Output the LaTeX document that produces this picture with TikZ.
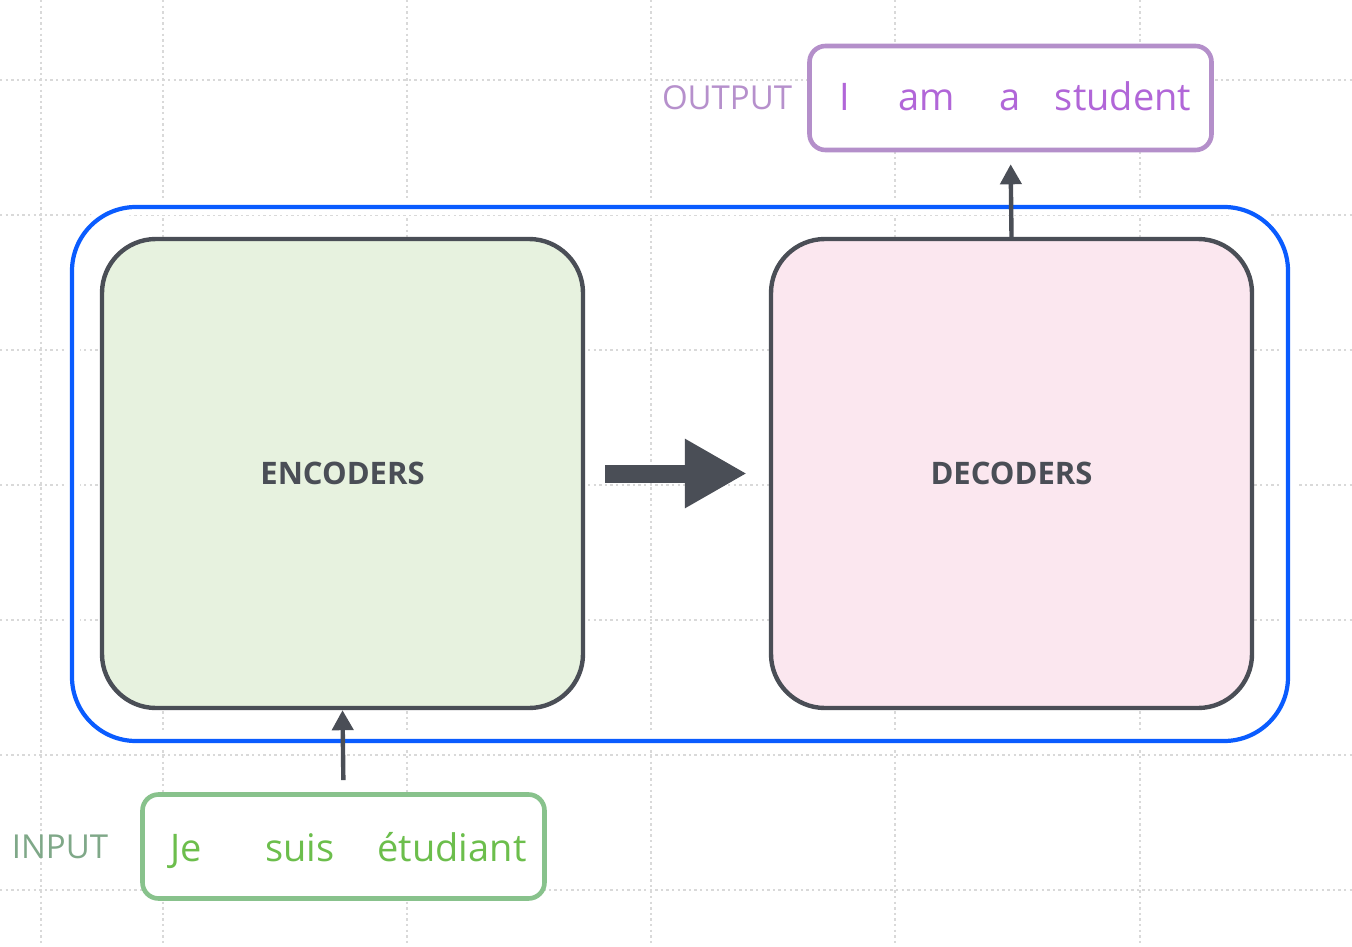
\documentclass[tikz,border=0pt]{standalone}
\usepackage{fontspec}
\setmainfont{Open Sans}
\usetikzlibrary{arrows.meta,positioning}
\definecolor{gridgray}{HTML}{D9D9D9}
\definecolor{slate}{HTML}{4A4E56}
\definecolor{ringblue}{HTML}{0A5CFF}
\definecolor{encfill}{HTML}{E7F2DF}
\definecolor{decfill}{HTML}{FBE7EF}
\definecolor{outline}{HTML}{B48FCA}
\definecolor{outtext}{HTML}{B166D8}
\definecolor{outlabel}{HTML}{B690CC}
\definecolor{inline}{HTML}{88C28C}
\definecolor{intext}{HTML}{6CBE4C}
\definecolor{inlabel}{HTML}{7FA888}

\begin{document}
\begin{tikzpicture}[x=0.5pt, y=-0.5pt,
    gridline/.style={draw=gridgray, line width=0.8pt, dash pattern=on 1.2pt off 1.6pt},
    ring/.style={draw=ringblue, line width=2.1pt, rounded corners=32pt, minimum width=608pt, minimum height=267pt,
      preaction={draw=white, line width=8pt}},
    block/.style={draw=slate, line width=2.2pt, rounded corners=27pt, minimum width=240.5pt, minimum height=234.5pt,
      text=slate, font=\fontsize{15.5}{18}\selectfont\bfseries},
    wordbox/.style={line width=2.3pt, rounded corners=8pt, minimum width=201pt, minimum height=52pt, fill=white},
    word/.style={anchor=base, font=\fontsize{19}{22}\selectfont},
    tag/.style={font=\fontsize{16.5}{20}\selectfont},
    feed/.style={draw=slate, line width=2.2pt, -{Triangle[width=10.5pt,length=10pt]}},
    bigarrow/.style={draw=slate, line width=9pt, -{Triangle[width=32.5pt,length=31pt]}}]

  \fill[white] (0,0) rectangle (1352,946);
  \useasboundingbox (0,0) rectangle (1352,946);

  \foreach \gx in {41,163,407,651,895,1140}
    \draw[gridline] (\gx,0) -- (\gx,946);
  \foreach \gy in {80,215,350,485,620,755,890}
    \draw[gridline] (0,\gy) -- (1352,\gy);

  \node[ring] (model) at (680,474) {};
  \node[block, fill=encfill] (enc) at (342.5,473.5) {ENCODERS};
  \node[block, fill=decfill] (dec) at (1011.5,473.5) {DECODERS};
  \draw[bigarrow, shorten <=10pt, shorten >=11pt] (enc) -- (dec);

  \node[wordbox, draw=outline] (outbox) at (1010.5,98) {};
  \node[tag, text=outlabel, left=4pt of outbox] (outtag) {OUTPUT};
  \node[word, text=outtext] (w1) at (845,111) {I};
  \node[word, text=outtext] (w2) at (927,111) {am};
  \node[word, text=outtext] (w3) at (1010,111) {a};
  \node[word, text=outtext] (w4) at (1123,111) {student};
  \draw[feed, shorten >=6pt] (dec.north) -- (outbox.south);

  \node[wordbox, draw=inline] (inbox) at (343.5,846.5) {};
  \node[tag, text=inlabel, left=12.5pt of inbox] (intag) {INPUT};
  \node[word, text=intext] (v1) at (186,861) {Je};
  \node[word, text=intext] (v2) at (300,861) {suis};
  \node[word, text=intext] (v3) at (452,861) {étudiant};
  \draw[feed, shorten <=6pt] (inbox.north) -- (enc.south);
\end{tikzpicture}
\end{document}
